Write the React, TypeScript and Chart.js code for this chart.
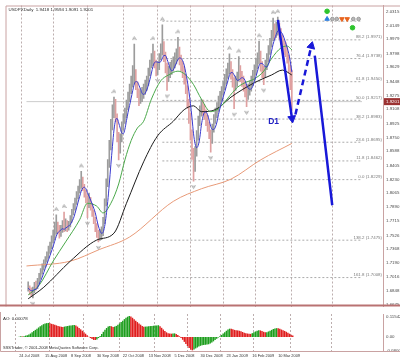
import React, { useEffect, useRef } from "react";
import { Chart, registerables } from "chart.js";
Chart.register(...registerables);

// ---------- DATA ----------
const closes = [
  1.6876, 1.6840, 1.6816, 1.6852, 1.6912, 1.6888, 1.6960, 1.7009, 1.7081, 1.7129,
  1.7177, 1.7225, 1.7273, 1.7345, 1.7393, 1.7465, 1.7514, 1.7586, 1.7658, 1.7610,
  1.7562, 1.7598, 1.7658, 1.7622, 1.7682, 1.7634, 1.7670, 1.7730, 1.7814, 1.7874,
  1.7946, 1.8018, 1.8091, 1.8163, 1.8211, 1.8139, 1.8067, 1.7994, 1.7922, 1.7994,
  1.7898, 1.7826, 1.7730, 1.7634, 1.7562, 1.7502, 1.7538, 1.7562, 1.7694, 1.7934,
  1.8175, 1.8415, 1.8656, 1.8896, 1.9076, 1.9197, 1.9016, 1.8776, 1.8620, 1.8740,
  1.8896, 1.8980, 1.9052, 1.9149, 1.9245, 1.9341, 1.9437, 1.9509, 1.9557, 1.9413,
  1.9317, 1.9233, 1.9269, 1.9293, 1.9341, 1.9389, 1.9437, 1.9557, 1.9654, 1.9750,
  1.9800, 1.9680, 1.9600, 1.9630, 1.9740, 1.9846, 1.9894, 1.9774, 1.9630, 1.9509,
  1.9557, 1.9606, 1.9630, 1.9678, 1.9726, 1.9774, 1.9822, 1.9726, 1.9654, 1.9581,
  1.9497, 1.9365, 1.9197, 1.9016, 1.8812, 1.8596, 1.8379, 1.8572, 1.8776, 1.8956,
  1.9076, 1.9149, 1.9101, 1.9052, 1.8980, 1.8908, 1.8812, 1.8716, 1.8860, 1.8980,
  1.9052, 1.9125, 1.9197, 1.9257, 1.9317, 1.9389, 1.9461, 1.9533, 1.9606, 1.9654,
  1.9557, 1.9461, 1.9389, 1.9437, 1.9485, 1.9581, 1.9533, 1.9461, 1.9413, 1.9341,
  1.9293, 1.9341, 1.9389, 1.9437, 1.9509, 1.9581, 1.9654, 1.9726, 1.9774, 1.9654,
  1.9581, 1.9533, 1.9654, 1.9738, 1.9822, 1.9918, 2.0014, 2.0086, 2.0062, 2.0110,
  2.0135, 2.0062, 1.9990, 1.9918, 1.9870, 1.9846, 1.9750, 1.9640, 1.9418, 1.9201,
];
const highs = [
  1.6955, 1.6905, 1.6880, 1.6890, 1.6950, 1.6965, 1.7000, 1.7060, 1.7120, 1.7180,
  1.7230, 1.7270, 1.7330, 1.7400, 1.7450, 1.7530, 1.7600, 1.7700, 1.7790, 1.7700,
  1.7660, 1.7660, 1.7720, 1.7826, 1.7740, 1.7720, 1.7710, 1.7780, 1.7860, 1.7930,
  1.8000, 1.8080, 1.8150, 1.8230, 1.8331, 1.8260, 1.8170, 1.8100, 1.8030, 1.8060,
  1.8010, 1.7930, 1.7850, 1.7760, 1.7680, 1.7600, 1.7610, 1.7640, 1.7760, 1.7990,
  1.8240, 1.8480, 1.8720, 1.8980, 1.9160, 1.9257, 1.9230, 1.9050, 1.8820, 1.8800,
  1.8950, 1.9050, 1.9120, 1.9220, 1.9320, 1.9420, 1.9520, 1.9650, 1.9918, 1.9600,
  1.9450, 1.9360, 1.9340, 1.9380, 1.9420, 1.9470, 1.9520, 1.9620, 1.9720, 1.9800,
  1.9918, 1.9830, 1.9720, 1.9700, 1.9800, 1.9920, 2.0159, 1.9950, 1.9820, 1.9680,
  1.9640, 1.9690, 1.9720, 1.9760, 1.9810, 1.9860, 2.0002, 1.9880, 1.9780, 1.9700,
  1.9640, 1.9540, 1.9400, 1.9230, 1.9060, 1.8850, 1.8620, 1.8640, 1.8840, 1.9020,
  1.9150, 1.9230, 1.9220, 1.9160, 1.9100, 1.9030, 1.8950, 1.8850, 1.8920, 1.9040,
  1.9120, 1.9190, 1.9270, 1.9330, 1.9390, 1.9460, 1.9540, 1.9610, 1.9680, 1.9798,
  1.9700, 1.9600, 1.9500, 1.9520, 1.9570, 1.9762, 1.9650, 1.9580, 1.9520, 1.9450,
  1.9400, 1.9420, 1.9460, 1.9520, 1.9590, 1.9660, 1.9740, 1.9810, 1.9954, 1.9830,
  1.9700, 1.9640, 1.9720, 1.9800, 1.9900, 1.9990, 2.0090, 2.0243, 2.0170, 2.0190,
  2.0255, 2.0180, 2.0110, 2.0030, 1.9980, 1.9940, 1.9880, 1.9780, 1.9660, 1.9594,
];
const lows = [
  1.6840, 1.6800, 1.6770, 1.6756, 1.6820, 1.6850, 1.6870, 1.6930, 1.6990, 1.7050,
  1.7100, 1.7140, 1.7200, 1.7250, 1.7310, 1.7370, 1.7440, 1.7480, 1.7550, 1.7560,
  1.7500, 1.7520, 1.7570, 1.7580, 1.7590, 1.7580, 1.7600, 1.7640, 1.7700, 1.7790,
  1.7850, 1.7920, 1.7990, 1.8060, 1.8120, 1.8090, 1.8010, 1.7940, 1.7754, 1.7880,
  1.7850, 1.7770, 1.7680, 1.7580, 1.7510, 1.7453, 1.7470, 1.7480, 1.7530, 1.7680,
  1.7900, 1.8140, 1.8380, 1.8600, 1.8850, 1.9000, 1.8950, 1.8700, 1.8475, 1.8560,
  1.8700, 1.8850, 1.8930, 1.9000, 1.9100, 1.9200, 1.9300, 1.9380, 1.9420, 1.9350,
  1.9250, 1.9150, 1.9180, 1.9200, 1.9240, 1.9290, 1.9340, 1.9400, 1.9520, 1.9620,
  1.9650, 1.9620, 1.9520, 1.9533, 1.9600, 1.9720, 1.9780, 1.9700, 1.9560, 1.9341,
  1.9450, 1.9500, 1.9540, 1.9580, 1.9620, 1.9670, 1.9720, 1.9660, 1.9580, 1.9500,
  1.9420, 1.9300, 1.9120, 1.8930, 1.8720, 1.8480, 1.8211, 1.8330, 1.8520, 1.8720,
  1.8900, 1.9020, 1.9030, 1.8980, 1.8900, 1.8830, 1.8740, 1.8572, 1.8680, 1.8820,
  1.8930, 1.9000, 1.9080, 1.9150, 1.9210, 1.9280, 1.9350, 1.9420, 1.9490, 1.9550,
  1.9480, 1.9380, 1.9113, 1.9340, 1.9390, 1.9460, 1.9450, 1.9390, 1.9330, 1.9260,
  1.9137, 1.9230, 1.9280, 1.9330, 1.9400, 1.9470, 1.9540, 1.9610, 1.9670, 1.9580,
  1.9500, 1.9413, 1.9500, 1.9600, 1.9700, 1.9790, 1.9880, 1.9960, 1.9980, 2.0000,
  2.0030, 1.9980, 1.9910, 1.9840, 1.9790, 1.9760, 1.9680, 1.9560, 1.9350, 1.9091,
];
const aoValues = [
  0.002, 0.004, 0.003, 0.005, 0.008, 0.010,
  0.014, 0.020, 0.027, 0.034, 0.041, 0.048, 0.055, 0.062, 0.068, 0.074, 0.078,
  0.080, 0.081, 0.079, 0.076,
  0.073, 0.070, 0.067, 0.064, 0.061, 0.059, 0.058,
  0.060, 0.062, 0.064, 0.066, 0.067, 0.068, 0.069,
  0.066, 0.060, 0.052, 0.044, 0.036, 0.028, 0.019, 0.010, 0.002, -0.006, -0.012, -0.017, -0.018,
  -0.014, -0.006, 0.006, 0.018, 0.030, 0.042, 0.052, 0.060, 0.064, 0.062, 0.058, 0.060, 0.064,
  0.070, 0.078, 0.086, 0.094, 0.103, 0.111, 0.117, 0.121,
  0.118, 0.111, 0.102, 0.094, 0.086, 0.078, 0.071, 0.064, 0.059,
  0.060, 0.061, 0.062, 0.063, 0.064, 0.065, 0.066, 0.067, 0.068,
  0.062, 0.053, 0.043, 0.034, 0.027, 0.022,
  0.020, 0.019, 0.020, 0.021, 0.018,
  0.012, 0.004, -0.006, -0.016, -0.028, -0.040, -0.052, -0.064, -0.074, -0.077,
  -0.072, -0.066, -0.060, -0.055, -0.051, -0.048, -0.046, -0.045, -0.044, -0.042, -0.038,
  -0.032, -0.025, -0.018, -0.010, -0.003, 0.004,
  0.012, 0.020, 0.028, 0.036, 0.043, 0.048,
  0.047, 0.044, 0.041, 0.039, 0.038, 0.036, 0.033, 0.029, 0.025, 0.022, 0.020, 0.019, 0.018,
  0.022, 0.027, 0.032, 0.036, 0.039, 0.038, 0.035,
  0.030, 0.027,
  0.028, 0.032, 0.036, 0.041, 0.046, 0.049, 0.051,
  0.050, 0.047, 0.043, 0.039, 0.035, 0.030, 0.025, 0.019, 0.013, 0.008,
];

// moving averages (bar index, price)
const greenMaX = [0, 7, 16, 24, 33, 38, 44, 48, 53, 58, 62, 66, 70, 74, 79, 85, 90, 96, 101, 106, 111, 117, 122, 128, 134, 139, 145, 151, 156, 162, 166, 169];
const greenMaY = [1.6792, 1.6912, 1.7213, 1.7453, 1.7730, 1.7934, 1.7898, 1.7814, 1.7934, 1.8175, 1.8475, 1.8716, 1.8872, 1.8956, 1.9233, 1.9461, 1.9533, 1.9581, 1.9533, 1.9413, 1.9233, 1.9076, 1.9113, 1.9245, 1.9377, 1.9437, 1.9485, 1.9581, 1.9738, 1.9870, 1.9894, 1.9846];
const blackMaX = [0, 10, 27, 44, 55, 63, 74, 83, 93, 100, 106, 111, 120, 130, 145, 156, 163, 169];
const blackMaY = [1.6744, 1.6888, 1.7213, 1.7477, 1.7562, 1.7934, 1.8451, 1.8776, 1.8956, 1.9101, 1.9149, 1.9076, 1.9101, 1.9257, 1.9437, 1.9533, 1.9594, 1.9533];
const orangeMaX = [-1.1, 27, 45.5, 65, 93, 111, 130, 149, 169];
const orangeMaY = [1.7153, 1.7213, 1.7357, 1.7514, 1.7958, 1.8115, 1.8235, 1.8475, 1.8680];

const fractalUpIdx = [18, 23, 34, 55, 68, 80, 86, 96, 129, 135, 148, 157, 160];
const fractalDownIdx = [3, 38, 45, 58, 83, 89, 106, 117, 132, 140, 151];

const priceTicks = [2.0315, 2.0149, 1.9979, 1.9798, 1.9629, 1.9448, 1.9275, 1.9108, 1.8925, 1.8750, 1.8588, 1.8405, 1.8230, 1.8065, 1.7890, 1.7715, 1.7526, 1.7368, 1.7190, 1.7016, 1.6848, 1.6675];
const aoTicks = [0.11542, 0, -0.08009];
const aoTickLabels = ["0.11542", "0.00", "-0.08009"];

const xLabelIdx = [0, 16, 32, 48, 64, 80, 96, 112, 128, 144, 160];
const xLabels = ["24 Jul 2008", "15 Aug 2008", "8 Sep 2008", "30 Sep 2008", "22 Oct 2008", "13 Nov 2008", "5 Dec 2008", "30 Dec 2008", "23 Jan 2009", "16 Feb 2009", "10 Mar 2009"];
const monthGridIdx = [6, 27, 49, 73, 93, 115, 135, 156, 182];

const fibHigh = 2.0204;
const fibLow = 1.8229;
const fibStartIdx = 86;
const fibRatios = [1.0, 0.882, 0.764, 0.618, 0.5, 0.382, 0.236, 0.118, 0.0, -0.382, -0.618];
const fibNames = ["", "88.2", "76.4", "61.8", "50.0", "38.2", "23.6", "11.8", "0.0", "138.2", "161.8"];

const bidPrice = 1.9201;
const titleText = "USDPXDaily  1.9418 1.9594 1.9091 1.9201";
const aoText = "AO: 0.00078";
const copyText = "SSSTrader, \u00a9 2001-2008 MetaQuotes Software Corp.";

// hand-drawn forecast arrows (bar index, price)
const arrow1X = [160.1, 169.1];
const arrow1Y = [2.0219, 1.8992];
const arrow2X = [171.3, 181.5];
const arrow2Y = [1.9040, 1.9894];
const arrow3X = [183.7, 194.9];
const arrow3Y = [1.9774, 1.7910];
const d1Label = { x: 157.3, y: 1.8956, text: "D1" };

// small terminal icons top right (bar index, price)
const greenDotsX = [191.6, 207.9];
const greenDotsY = [2.0327, 2.0122];
const grayIconsX = [195, 197.8, 208.4, 211.8];
const orangeIconsX = [201.1, 204.5];
const blueIconX = [191.6];
const iconRowY = 2.0231;

const X_MIN = -1.1;
const X_MAX = 214;
const FONT = "'Liberation Sans', Arial, sans-serif";

function smaOf(values: number[], n: number) {
  return values.map((_, i) => {
    const from = Math.max(0, i - n + 1);
    const slice = values.slice(from, i + 1);
    return slice.reduce((a, b) => a + b, 0) / slice.length;
  });
}

function glyph(up: boolean) {
  const c = document.createElement("canvas");
  c.width = 5;
  c.height = 18;
  const g = c.getContext("2d")!;
  g.strokeStyle = "#a4a4a4";
  g.lineWidth = 0.9;
  g.beginPath();
  if (up) {
    g.moveTo(0.5, 5); g.lineTo(2.5, 1.5); g.lineTo(4.5, 5);
    g.moveTo(1.2, 3.8); g.lineTo(3.8, 3.8);
  } else {
    g.moveTo(0.5, 13); g.lineTo(2.5, 16.5); g.lineTo(4.5, 13);
    g.moveTo(1.2, 14.2); g.lineTo(3.8, 14.2);
  }
  g.stroke();
  return c;
}

export default function App() {
  const aRef = useRef<HTMLCanvasElement>(null);
  const bRef = useRef<HTMLCanvasElement>(null);

  useEffect(() => {
    document.body.style.margin = "0";
    const upG = glyph(true);
    const dnG = glyph(false);
    const blue = smaOf(closes, 5);
    const fibPrices = fibRatios.map((r) => fibLow + r * (fibHigh - fibLow));

    const barColors = closes.map((c, i) => (c >= (i > 0 ? closes[i - 1] : c) ? "#9c9c9c" : "#dfa0a0"));
    const lineDs = (xs: number[], ys: number[], color: string, order: number, extra: any = {}) => ({
      type: "line",
      data: xs.map((x, i) => ({ x, y: ys[i] })),
      borderColor: color,
      borderWidth: 1,
      pointRadius: 0,
      tension: 0.35,
      cubicInterpolationMode: "monotone",
      order,
      ...extra,
    });

    const datasets: any[] = [];
    fibPrices.forEach((p) => {
      datasets.push(lineDs([fibStartIdx, X_MAX], [p, p], "#ababab", 20, { borderDash: [2, 2], tension: 0 }));
    });
    datasets.push(lineDs([X_MIN, X_MAX], [bidPrice, bidPrice], "#cccccc", 19, { tension: 0 }));
    datasets.push({
      type: "bar",
      data: closes.map((_, i) => ({ x: i, y: [lows[i], highs[i]] })),
      backgroundColor: barColors,
      barThickness: 1,
      borderWidth: 0,
      grouped: false,
      order: 15,
    });
    datasets.push(lineDs(orangeMaX, orangeMaY, "#e89a78", 9));
    datasets.push(lineDs(blackMaX, blackMaY, "#1c1c1c", 8));
    datasets.push(lineDs(greenMaX, greenMaY, "#4aa84a", 7));
    datasets.push(lineDs(closes.map((_, i) => i), blue, "#3a3ad0", 6, { tension: 0.2 }));
    datasets.push({
      type: "line", showLine: false, order: 5,
      data: fractalUpIdx.map((i) => ({ x: i, y: highs[i] })),
      pointStyle: upG, pointRadius: 3,
    });
    datasets.push({
      type: "line", showLine: false, order: 5,
      data: fractalDownIdx.map((i) => ({ x: i, y: lows[i] })),
      pointStyle: dnG, pointRadius: 3,
    });
    const arrowBlue = "#1818d8";
    datasets.push(lineDs(arrow1X, arrow1Y, arrowBlue, 2, {
      tension: 0, borderWidth: 2.5, pointRadius: [0, 4.5], pointStyle: "triangle",
      pointRotation: [0, 171], pointBackgroundColor: arrowBlue, pointBorderColor: arrowBlue, pointBorderWidth: 1,
    }));
    datasets.push(lineDs(arrow2X, arrow2Y, arrowBlue, 2, {
      tension: 0, borderWidth: 2.5, borderDash: [6, 4], pointRadius: [0, 4.5], pointStyle: "triangle",
      pointRotation: [0, 14], pointBackgroundColor: arrowBlue, pointBorderColor: arrowBlue, pointBorderWidth: 1,
    }));
    datasets.push(lineDs(arrow3X, arrow3Y, arrowBlue, 2, { tension: 0, borderWidth: 2.5 }));
    datasets.push({
      type: "line", showLine: false, order: 1,
      data: greenDotsX.map((x, i) => ({ x, y: greenDotsY[i] })),
      pointStyle: "circle", pointRadius: 2.3, pointBackgroundColor: "#2ec42e", pointBorderColor: "#2ec42e",
    });
    datasets.push({
      type: "line", showLine: false, order: 1,
      data: grayIconsX.map((x) => ({ x, y: iconRowY })),
      pointStyle: "circle", pointRadius: 1.8, pointBackgroundColor: "#b8b8b8", pointBorderColor: "#9a9a9a",
    });
    datasets.push({
      type: "line", showLine: false, order: 1,
      data: orangeIconsX.map((x) => ({ x, y: iconRowY })),
      pointStyle: "triangle", pointRotation: 180, pointRadius: 2.6, pointBackgroundColor: "#e8641e", pointBorderColor: "#e8641e",
    });
    datasets.push({
      type: "line", showLine: false, order: 1,
      data: blueIconX.map((x) => ({ x, y: iconRowY })),
      pointStyle: "triangle", pointRadius: 2.6, pointBackgroundColor: "#2a7ee0", pointBorderColor: "#2a7ee0",
    });

    const mainPlugin = {
      id: "mainDecor",
      afterDatasetsDraw(chart: any) {
        const { ctx, chartArea, scales } = chart;
        const ys = scales.y;
        const xs = scales.x;
        ctx.save();
        ctx.font = `4.4px ${FONT}`;
        ctx.fillStyle = "#7a7a7a";
        ctx.textAlign = "right";
        ctx.textBaseline = "bottom";
        fibPrices.forEach((p, k) => {
          if (!fibNames[k]) return;
          const y = ys.getPixelForValue(p);
          ctx.fillText(`${fibNames[k]} (${p.toFixed(4)})`, chartArea.right - 1, y - 0.5);
        });
        ctx.font = `bold 8.5px ${FONT}`;
        ctx.fillStyle = "#2222c4";
        ctx.textAlign = "center";
        ctx.textBaseline = "middle";
        ctx.fillText(d1Label.text, xs.getPixelForValue(d1Label.x), ys.getPixelForValue(d1Label.y));
        ctx.restore();
      },
      afterDraw(chart: any) {
        const { ctx, chartArea, scales } = chart;
        const { left, top, right, bottom } = chartArea;
        ctx.save();
        ctx.strokeStyle = "#c9a2a2";
        ctx.lineWidth = 1;
        ctx.beginPath();
        ctx.moveTo(left + 0.5, bottom);
        ctx.lineTo(left + 0.5, top + 0.5);
        ctx.lineTo(400, top + 0.5);
        ctx.stroke();
        ctx.fillStyle = "#b97272";
        ctx.fillRect(0, bottom - 2, 400, 2);
        const y = scales.y.getPixelForValue(bidPrice);
        ctx.fillStyle = "#9b3232";
        ctx.fillRect(right + 1, y - 3.5, 400 - right - 1, 7);
        ctx.fillStyle = "#ffffff";
        ctx.font = `4.4px ${FONT}`;
        ctx.textAlign = "left";
        ctx.textBaseline = "middle";
        ctx.fillText(bidPrice.toFixed(4), right + 3, y);
        ctx.fillStyle = "#2a2a2a";
        ctx.font = `4.4px ${FONT}`;
        ctx.fillText(titleText, left + 3, top + 4.5);
        ctx.restore();
      },
    };

    const chartA = new Chart(aRef.current!, {
      type: "line",
      data: { datasets },
      options: {
        animation: false,
        responsive: false,
        devicePixelRatio: 1,
        events: [],
        layout: { padding: 0 },
        plugins: { legend: { display: false }, tooltip: { enabled: false } },
        scales: {
          x: {
            type: "linear", min: X_MIN, max: X_MAX, display: true,
            afterBuildTicks: (s: any) => { s.ticks = monthGridIdx.map((v) => ({ value: v })); },
            afterFit: (s: any) => { s.height = 0; s.paddingLeft = 0; s.paddingRight = 0; },
            ticks: { display: false, autoSkip: false },
            grid: { color: "#bcaeae", drawTicks: false, lineWidth: 1 },
            border: { display: false, dash: [2, 2] },
          },
          y: {
            type: "linear", position: "right", min: 1.6648, max: 2.0399,
            afterBuildTicks: (s: any) => { s.ticks = priceTicks.map((v) => ({ value: v })); },
            afterFit: (s: any) => { s.width = 17; s.paddingTop = 0; s.paddingBottom = 0; },
            ticks: {
              autoSkip: false, padding: 3, color: "#4a4a4a",
              font: { size: 4.4, family: FONT },
              callback: (v: any) => Number(v).toFixed(4),
            },
            grid: { display: false, drawTicks: false },
            border: { display: true, color: "#c9a2a2" },
          },
        },
      } as any,
      plugins: [mainPlugin],
    });

    const aoColors = aoValues.map((v, i) => (i === 0 || v > aoValues[i - 1] ? "#1e9e1e" : "#e01e1e"));
    const aoPlugin = {
      id: "aoDecor",
      afterDraw(chart: any) {
        const { ctx, chartArea } = chart;
        const { left, top, bottom } = chartArea;
        ctx.save();
        ctx.strokeStyle = "#c9a2a2";
        ctx.lineWidth = 1;
        ctx.beginPath();
        ctx.moveTo(left + 0.5, 0);
        ctx.lineTo(left + 0.5, bottom + 0.5);
        ctx.lineTo(400, bottom + 0.5);
        ctx.stroke();
        ctx.fillStyle = "#2a2a2a";
        ctx.font = `4.4px ${FONT}`;
        ctx.textAlign = "left";
        ctx.textBaseline = "middle";
        ctx.fillText(aoText, left + 3, top + 4.5);
        ctx.font = `4px ${FONT}`;
        ctx.fillText(copyText, left + 3, bottom - 3);
        ctx.restore();
      },
    };

    const chartB = new Chart(bRef.current!, {
      type: "bar",
      data: {
        datasets: [
          {
            type: "bar",
            data: aoValues.map((v, i) => ({ x: i, y: v })),
            backgroundColor: aoColors,
            borderWidth: 0,
            barPercentage: 0.9,
            categoryPercentage: 1,
          },
        ],
      },
      options: {
        animation: false,
        responsive: false,
        devicePixelRatio: 1,
        events: [],
        layout: { padding: { top: 2, left: 0, right: 0, bottom: 0 } },
        plugins: { legend: { display: false }, tooltip: { enabled: false } },
        scales: {
          x: {
            type: "linear", min: X_MIN, max: X_MAX, position: "bottom",
            afterBuildTicks: (s: any) => { s.ticks = xLabelIdx.map((v) => ({ value: v })); },
            afterFit: (s: any) => { s.height = 10; s.paddingLeft = 0; s.paddingRight = 0; },
            ticks: {
              autoSkip: false, align: "start", maxRotation: 0, minRotation: 0, padding: 3,
              color: "#333333", font: { size: 3.9, family: FONT },
              callback: (v: any) => xLabels[xLabelIdx.indexOf(Number(v))] ?? "",
            },
            grid: { display: false, drawTicks: false },
            border: { display: false },
          },
          x2: {
            type: "linear", min: X_MIN, max: X_MAX, position: "bottom",
            afterBuildTicks: (s: any) => { s.ticks = monthGridIdx.map((v) => ({ value: v })); },
            afterFit: (s: any) => { s.height = 0; s.paddingLeft = 0; s.paddingRight = 0; },
            ticks: { display: false, autoSkip: false },
            grid: { color: "#bcaeae", drawTicks: false, lineWidth: 1 },
            border: { display: false, dash: [2, 2] },
          },
          y: {
            type: "linear", position: "right", min: -0.0808, max: 0.1327,
            afterBuildTicks: (s: any) => { s.ticks = aoTicks.map((v) => ({ value: v })); },
            afterFit: (s: any) => { s.width = 17; s.paddingTop = 0; s.paddingBottom = 0; },
            ticks: {
              autoSkip: false, padding: 3, color: "#4a4a4a",
              font: { size: 4.4, family: FONT },
              callback: (v: any) => aoTickLabels[aoTicks.indexOf(Number(v))] ?? "",
            },
            grid: { display: false, drawTicks: false },
            border: { display: true, color: "#c9a2a2" },
          },
        },
      } as any,
      plugins: [aoPlugin],
    });

    return () => {
      chartA.destroy();
      chartB.destroy();
    };
  }, []);

  return (
    <div style={{ position: "relative", width: 400, height: 361, background: "#ffffff", overflow: "hidden" }}>
      <canvas ref={aRef} width={400} height={312} style={{ position: "absolute", left: 0, top: 0, width: 400, height: 312, display: "block" }} />
      <canvas ref={bRef} width={400} height={49} style={{ position: "absolute", left: 0, top: 312, width: 400, height: 49, display: "block" }} />
    </div>
  );
}
